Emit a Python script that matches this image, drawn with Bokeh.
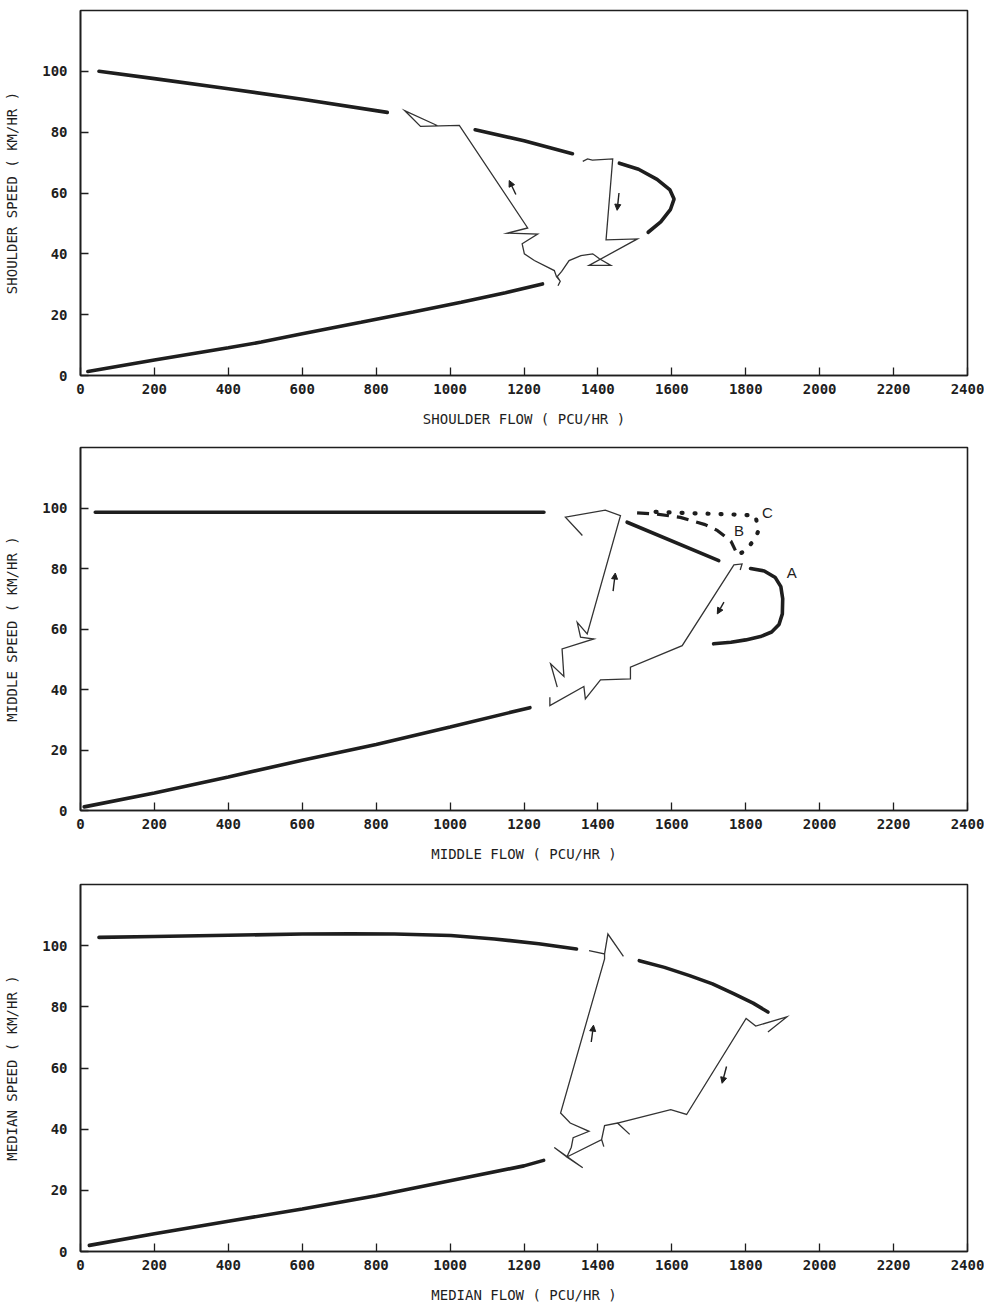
from bokeh.plotting import figure
from bokeh.layouts import column
from bokeh.models import FixedTicker, Arrow, NormalHead, ColumnDataSource
from bokeh.core.properties import value
from bokeh.embed import file_html
from bokeh.resources import INLINE

# ---------------- data ----------------
x_ticks = [0, 200, 400, 600, 800, 1000, 1200, 1400, 1600, 1800, 2000, 2200, 2400]
y_ticks = [0, 20, 40, 60, 80, 100]

# Shoulder lane
sh_upper1_flow = [50, 200, 400, 600, 830]
sh_upper1_speed = [100, 97.6, 94.3, 90.8, 86.5]
sh_upper2_flow = [1068, 1200, 1331]
sh_upper2_speed = [80.8, 77.2, 72.9]
sh_arc_flow = [1458, 1510, 1560, 1595, 1606, 1596, 1570, 1536]
sh_arc_speed = [69.8, 67.8, 64.5, 61, 58, 54.5, 50.5, 47.1]
sh_lower_flow = [20, 200, 400, 489, 600, 759, 900, 1030, 1150, 1250]
sh_lower_speed = [1.3, 5.1, 9.1, 11, 13.7, 17.5, 20.9, 24.1, 27.2, 30.1]
sh_path_flow = [1359, 1372, 1385, 1440, 1422, 1507, 1376, 1435, 1404, 1386, 1354, 1322, 1302,
                1290, 1298, 1292, 1298, 1288, 1282, 1228, 1201, 1195, 1237, 1155, 1210, 1025,
                920, 877, 965]
sh_path_speed = [70.4, 71.2, 70.8, 71.2, 44.6, 44.9, 36.2, 36.2, 38.4, 40, 39.4, 37.8, 34.2,
                 32.5, 31, 29.5, 31, 32.5, 34.5, 37.8, 40, 43.3, 46.5, 46.8, 48.5, 82.2,
                 81.9, 87.1, 82.2]
sh_arrow_x0 = [1178, 1457]
sh_arrow_y0 = [59.5, 60.0]
sh_arrow_x1 = [1160, 1452]
sh_arrow_y1 = [64.1, 54.3]

# Middle lane
md_upper_flow = [40, 600, 1254]
md_upper_speed = [98.6, 98.6, 98.6]
md_lower_flow = [10, 200, 400, 600, 800, 1000, 1216]
md_lower_speed = [1.2, 5.8, 11.1, 16.6, 21.8, 27.6, 34]
md_solid_flow = [1479, 1727]
md_solid_speed = [95.3, 82.6]
md_dash_flow = [1506, 1560, 1623, 1690, 1723, 1760, 1772]
md_dash_speed = [98.4, 98, 96.9, 94.5, 92.6, 89, 86]
md_dot_flow = [1556, 1620, 1700, 1780, 1826, 1835, 1822, 1799, 1777]
md_dot_speed = [98.7, 98.4, 98.1, 97.8, 97.5, 92.6, 89.3, 86, 84.3]
md_arc_flow = [1813, 1850, 1880, 1895, 1900, 1899, 1890, 1870, 1840, 1800, 1760, 1713]
md_arc_speed = [80, 79.2, 77, 74, 70, 65, 61.5, 59, 57.5, 56.4, 55.6, 55.1]
md_path1_flow = [1785, 1790, 1768, 1628, 1488, 1488, 1407, 1366, 1362, 1270, 1270]
md_path1_speed = [79.5, 81.5, 81.2, 54.5, 47.4, 43.5, 43.2, 36.9, 41, 34.7, 37.4]
md_path2_flow = [1290, 1272, 1308, 1303, 1389, 1353, 1344, 1371, 1461, 1420, 1312, 1358]
md_path2_speed = [40.8, 48.5, 44.3, 53.4, 56.7, 57.3, 62.2, 58.4, 97.5, 99.3, 97, 90.9]
md_arrow_x0 = [1441, 1741]
md_arrow_y0 = [72.5, 68.9]
md_arrow_x1 = [1447, 1723]
md_arrow_y1 = [78.5, 65.0]
md_letters = ["A", "B", "C"]
md_letter_flow = [1911, 1768, 1844]
md_letter_speed = [78.8, 92.7, 98.6]

# Median lane
mn_upper1_flow = [50, 200, 400, 600, 730, 850, 1002, 1120, 1240, 1342]
mn_upper1_speed = [102.7, 103, 103.4, 103.8, 103.9, 103.8, 103.3, 102.2, 100.6, 98.9]
mn_upper2_flow = [1512, 1580, 1648, 1710, 1767, 1820, 1860]
mn_upper2_speed = [95.1, 92.9, 90.2, 87.5, 84.3, 81.2, 78.3]
mn_lower_flow = [24, 200, 400, 600, 800, 1000, 1200, 1253]
mn_lower_speed = [2, 5.8, 9.9, 13.9, 18.2, 23.1, 28, 29.8]
mn_path_flow = [1860, 1911, 1827, 1801, 1640, 1597, 1453, 1486, 1453, 1418, 1410, 1416,
                1410, 1316, 1359, 1282, 1316, 1328, 1333, 1376, 1325, 1299, 1418, 1418,
                1376, 1418, 1427, 1469]
mn_path_speed = [71.8, 76.7, 73.7, 76.2, 44.8, 46.4, 42, 38.3, 42, 41.2, 36.6, 34.3,
                 36.6, 30.9, 27.4, 34, 30.9, 34.1, 37.2, 39.3, 42, 45.3, 95.7, 97.3,
                 98.4, 97.3, 103.8, 96.5]
mn_arrow_x0 = [1382, 1748]
mn_arrow_y0 = [68.5, 60.5]
mn_arrow_x1 = [1388, 1736]
mn_arrow_y1 = [74.0, 55.0]

FONT = "DejaVu Sans Mono"
INK = "#1e1e1e"
THICK = 3.6
THIN = 1.3


def make_fig(height, top, bottom, xlabel, ylabel):
    p = figure(width=984, height=height, x_range=(0, 2400), y_range=(0, 120),
               output_backend="svg", toolbar_location=None, tools="",
               min_border_left=80, min_border_right=17,
               min_border_top=top, min_border_bottom=bottom,
               background_fill_color="white", border_fill_color="white")
    p.grid.visible = False
    p.outline_line_color = INK
    p.outline_line_width = 1.6
    p.xaxis.ticker = FixedTicker(ticks=x_ticks)
    p.yaxis.ticker = FixedTicker(ticks=y_ticks)
    for ax in (p.xaxis[0], p.yaxis[0]):
        ax.axis_line_color = INK
        ax.axis_line_width = 1.6
        ax.major_tick_in = 8
        ax.major_tick_out = 0
        ax.major_tick_line_color = INK
        ax.major_tick_line_width = 1.3
        ax.minor_tick_line_color = None
        ax.major_label_text_font = FONT
        ax.major_label_text_font_style = "bold"
        ax.major_label_text_color = INK
        ax.axis_label_text_font = FONT
        ax.axis_label_text_font_style = "normal"
        ax.axis_label_text_color = INK
    p.xaxis.major_label_text_font_size = "14px"
    p.yaxis.major_label_text_font_size = "14px"
    p.xaxis.axis_label_text_font_size = "14px"
    p.yaxis.axis_label_text_font_size = "14px"
    p.xaxis.major_label_standoff = 8
    p.yaxis.major_label_standoff = 13
    p.xaxis.axis_label_standoff = 14
    p.yaxis.axis_label_standoff = 19
    p.xaxis.axis_label = xlabel
    p.yaxis.axis_label = ylabel
    return p


def thick(p, x, y, **kw):
    p.line(x, y, line_color=INK, line_width=THICK, line_cap="round", **kw)


def thin(p, x, y):
    p.line(x, y, line_color="#333333", line_width=THIN, line_join="miter")


def arrows(p, x0, y0, x1, y1):
    src = ColumnDataSource(dict(x0=x0, y0=y0, x1=x1, y1=y1))
    p.add_layout(Arrow(end=NormalHead(size=6, fill_color=INK, line_color=INK),
                       x_start="x0", y_start="y0", x_end="x1", y_end="y1",
                       line_color=INK, line_width=1.4, source=src))


# ---------- Panel 1: shoulder ----------
p1 = make_fig(435, 10, 60, "SHOULDER FLOW ( PCU/HR )", "SHOULDER SPEED ( KM/HR )")
thick(p1, sh_upper1_flow, sh_upper1_speed)
thick(p1, sh_upper2_flow, sh_upper2_speed)
thick(p1, sh_arc_flow, sh_arc_speed)
thick(p1, sh_lower_flow, sh_lower_speed)
thin(p1, sh_path_flow, sh_path_speed)
arrows(p1, sh_arrow_x0, sh_arrow_y0, sh_arrow_x1, sh_arrow_y1)

# ---------- Panel 2: middle ----------
p2 = make_fig(435, 12, 60, "MIDDLE FLOW ( PCU/HR )", "MIDDLE SPEED ( KM/HR )")
thick(p2, md_upper_flow, md_upper_speed)
thick(p2, md_lower_flow, md_lower_speed)
thick(p2, md_solid_flow, md_solid_speed)
p2.line(md_dash_flow, md_dash_speed, line_color=INK, line_width=3.2, line_dash="12 8")
p2.line(md_dot_flow, md_dot_speed, line_color=INK, line_width=4.2, line_dash="1 12",
        line_cap="round")
thick(p2, md_arc_flow, md_arc_speed)
thin(p2, md_path1_flow, md_path1_speed)
thin(p2, md_path2_flow, md_path2_speed)
arrows(p2, md_arrow_x0, md_arrow_y0, md_arrow_x1, md_arrow_y1)
p2.text(md_letter_flow, md_letter_speed, text=md_letters, text_font=value("Liberation Sans"),
        text_font_size="15px", text_color=INK, text_align="left", text_baseline="middle")

# ---------- Panel 3: median ----------
p3 = make_fig(435, 14, 52, "MEDIAN FLOW ( PCU/HR )", "MEDIAN SPEED ( KM/HR )")
thick(p3, mn_upper1_flow, mn_upper1_speed)
thick(p3, mn_upper2_flow, mn_upper2_speed)
thick(p3, mn_lower_flow, mn_lower_speed)
thin(p3, mn_path_flow, mn_path_speed)
arrows(p3, mn_arrow_x0, mn_arrow_y0, mn_arrow_x1, mn_arrow_y1)

layout = column(p1, p2, p3, spacing=0)
open("out.html", "w").write(file_html(layout, INLINE))
